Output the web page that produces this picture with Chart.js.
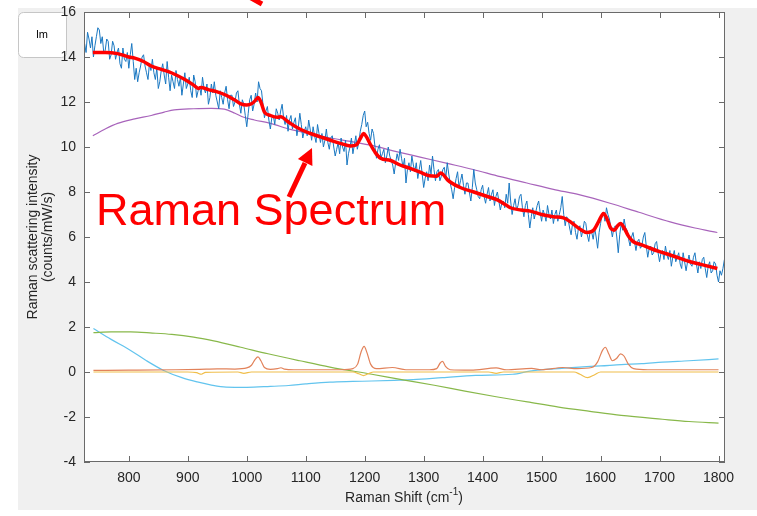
<!DOCTYPE html>
<html>
<head>
<meta charset="utf-8">
<style>
  html, body { margin: 0; padding: 0; background: #fff; }
  #raman { display: block; }
</style>
<script src="https://cdn.jsdelivr.net/npm/chart.js@4.4.1/dist/chart.umd.min.js"></script>
</head>
<body>
<canvas id="raman" width="757" height="516"></canvas>
<script>
// measured spectrum, sampled every 2.5 cm-1 from 725 cm-1
const shiftStart = 725;
const shiftStep = 2.5;
const spectrum = [
  14.6, 14.2, 15.1, 14.8, 14.4, 14.9, 14.0, 14.5, 14.9, 15.3, 15.2, 14.6, 14.9, 14.2, 14.3, 14.8, 14.7, 13.9, 14.1, 14.7,
  14.5, 13.9, 14.2, 14.4, 13.7, 13.5, 14.4, 13.9, 13.8, 14.2, 13.5, 14.1, 14.6, 13.8, 13.0, 13.5, 12.9, 13.3, 13.6, 14.0,
  14.1, 13.6, 13.3, 13.0, 13.7, 13.4, 13.9, 13.3, 13.0, 13.5, 12.6, 12.9, 13.4, 13.7, 13.2, 12.8, 13.8, 13.1, 12.5, 13.2,
  12.9, 12.6, 13.4, 13.0, 12.7, 13.1, 12.3, 12.8, 13.3, 12.6, 12.8, 13.1, 12.5, 12.2, 13.2, 12.9, 12.2, 12.5, 12.7, 12.3,
  13.1, 12.6, 12.4, 12.8, 11.9, 12.2, 12.8, 12.4, 12.9, 12.3, 12.0, 11.7, 12.5, 12.2, 11.9, 12.4, 12.7, 12.1, 11.7, 12.3,
  12.3, 11.8, 12.0, 12.4, 12.5, 11.9, 11.5, 12.1, 11.9, 11.4, 10.9, 11.5, 12.1, 12.3, 11.6, 11.9, 12.4, 12.0, 12.9, 12.6,
  12.5, 11.9, 11.3, 11.6, 11.8, 11.2, 10.8, 11.3, 11.4, 11.0, 11.7, 11.5, 11.2, 11.6, 11.9, 11.3, 11.0, 11.4, 10.7, 11.2,
  11.4, 10.8, 11.1, 11.3, 10.5, 10.9, 11.5, 11.0, 10.4, 10.7, 10.9, 10.5, 11.2, 10.8, 10.3, 10.9, 10.5, 10.2, 11.0, 10.6,
  10.2, 10.6, 10.0, 10.3, 10.8, 10.2, 9.9, 10.4, 10.5, 10.0, 9.6, 9.9, 10.2, 9.7, 10.4, 10.0, 9.8, 10.3, 9.2, 9.7,
  10.0, 10.4, 9.7, 10.1, 10.5, 9.9, 10.2, 10.7, 11.0, 11.4, 11.6, 10.9, 11.1, 10.6, 10.3, 10.8, 10.6, 10.0, 9.5, 9.9,
  10.1, 9.5, 9.7, 9.9, 9.3, 9.6, 10.0, 9.6, 9.4, 9.2, 8.8, 9.3, 9.7, 9.4, 9.9, 9.5, 9.1, 9.5, 8.4, 9.0,
  9.3, 8.9, 9.6, 9.2, 8.9, 9.3, 8.6, 9.0, 9.4, 8.8, 8.2, 8.6, 8.9, 8.5, 9.2, 8.8, 9.6, 9.0, 8.5, 8.9,
  9.0, 8.5, 8.7, 9.0, 9.1, 8.6, 9.3, 8.8, 8.4, 8.1, 7.7, 8.2, 8.6, 8.9, 8.2, 8.5, 8.8, 8.3, 7.9, 8.4,
  8.4, 8.0, 7.6, 8.2, 9.0, 8.4, 8.1, 7.8, 7.7, 8.1, 8.3, 7.8, 7.5, 7.9, 8.2, 7.6, 7.9, 8.1, 7.4, 7.8,
  8.0, 7.6, 7.2, 7.5, 7.6, 7.3, 7.9, 7.5, 8.4, 7.6, 7.0, 7.4, 7.7, 7.2, 7.4, 7.8, 7.9, 7.3, 6.9, 7.4,
  7.6, 7.0, 6.4, 6.9, 7.3, 6.8, 7.1, 7.4, 7.6, 7.1, 6.7, 7.2, 7.0, 6.7, 7.4, 7.0, 6.8, 7.2, 6.6, 7.0,
  7.2, 6.7, 7.0, 7.3, 7.8, 7.0, 6.5, 6.9, 6.8, 6.4, 6.1, 6.6, 6.7, 6.2, 5.9, 6.4, 6.5, 6.0, 6.3, 6.7,
  6.6, 6.1, 5.8, 6.3, 6.2, 5.9, 6.4, 6.0, 5.5, 6.2, 6.6, 7.0, 7.1, 6.7, 7.3, 7.0, 6.8, 6.4, 6.0, 6.4,
  6.5, 6.0, 5.3, 6.1, 6.6, 6.3, 6.8, 6.4, 6.3, 5.9, 5.6, 6.0, 6.2, 5.8, 5.4, 5.8, 5.9, 5.5, 5.6, 6.0,
  6.2, 5.6, 5.1, 5.5, 5.6, 5.2, 5.3, 5.7, 5.8, 5.3, 4.9, 5.3, 5.4, 5.0, 5.6, 5.2, 5.0, 5.4, 4.7, 5.1,
  5.4, 4.9, 5.1, 5.3, 4.8, 4.6, 5.3, 4.9, 4.5, 4.9, 5.2, 4.8, 4.7, 5.1, 5.3, 4.8, 4.4, 4.9, 4.6, 5.0,
  5.1, 4.6, 4.2, 4.7, 4.9, 4.4, 4.5, 4.9, 4.8, 4.3, 4.0, 4.5, 4.3, 4.6, 5.0
];

// fitted curve and its components, [shift, value]
const fitCurve = [
  [739, 14.2], [760, 14.2], [781, 14.15], [800, 14.0], [810, 13.95], [825, 13.8],
  [838, 13.6], [855, 13.45], [872, 13.3], [895, 13.0], [910, 12.75], [918, 12.6],
  [922, 12.65], [935, 12.55], [950, 12.45], [965, 12.3], [979, 12.1], [990, 11.92],
  [1000, 11.87], [1008, 11.92], [1014, 12.05], [1019, 12.2], [1024, 12.0], [1030, 11.55],
  [1040, 11.4], [1052, 11.32], [1058, 11.35], [1064, 11.25], [1074, 11.05], [1090, 10.8],
  [1108, 10.6], [1125, 10.45], [1142, 10.3], [1160, 10.15], [1176, 10.05], [1186, 10.1],
  [1193, 10.4], [1198, 10.6], [1203, 10.45], [1210, 10.1], [1218, 9.75], [1227, 9.5],
  [1244, 9.4], [1260, 9.2], [1277, 9.05], [1294, 8.88], [1310, 8.72], [1322, 8.7],
  [1329, 8.85], [1334, 8.75], [1340, 8.55], [1362, 8.2], [1385, 8.0], [1408, 7.8],
  [1425, 7.65], [1438, 7.45], [1447, 7.3], [1465, 7.2], [1481, 7.15], [1500, 7.0],
  [1520, 6.9], [1537, 6.85], [1550, 6.65], [1565, 6.35], [1577, 6.2], [1588, 6.3],
  [1597, 6.7], [1605, 7.05], [1611, 6.8], [1617, 6.4], [1623, 6.3], [1629, 6.5],
  [1634, 6.6], [1640, 6.4], [1647, 6.05], [1655, 5.8], [1670, 5.65], [1684, 5.5],
  [1700, 5.35], [1718, 5.2], [1735, 5.05], [1752, 4.9], [1775, 4.75], [1798, 4.6]
];

const background = [
  [739, 10.5], [760, 10.8], [781, 11.05], [810, 11.25], [838, 11.4], [860, 11.55],
  [877, 11.65], [910, 11.7], [940, 11.72], [962, 11.68], [980, 11.5], [995, 11.32],
  [1013, 11.2], [1040, 11.05], [1074, 10.78], [1108, 10.58], [1142, 10.4], [1176, 10.25],
  [1210, 10.08], [1250, 9.82], [1294, 9.55], [1340, 9.27], [1384, 9.0], [1430, 8.68],
  [1475, 8.4], [1520, 8.12], [1565, 7.87], [1616, 7.5], [1665, 7.1], [1718, 6.67],
  [1760, 6.4], [1798, 6.2]
];

const peaksPos = [
  [740, 0.07], [800, 0.08], [880, 0.1], [920, 0.12], [950, 0.14], [980, 0.13],
  [1000, 0.18], [1008, 0.3], [1014, 0.55], [1019, 0.67], [1024, 0.5], [1030, 0.2],
  [1040, 0.12], [1052, 0.15], [1058, 0.19], [1064, 0.13], [1080, 0.1], [1120, 0.1],
  [1160, 0.1], [1180, 0.15], [1188, 0.35], [1194, 0.9], [1199, 1.14], [1204, 0.85],
  [1210, 0.35], [1220, 0.15], [1247, 0.2], [1270, 0.1], [1310, 0.1], [1322, 0.15],
  [1328, 0.4], [1332, 0.47], [1337, 0.25], [1345, 0.1], [1380, 0.08], [1423, 0.18],
  [1440, 0.1], [1483, 0.16], [1500, 0.1], [1536, 0.2], [1560, 0.15], [1585, 0.2],
  [1595, 0.45], [1603, 0.95], [1608, 1.1], [1614, 0.8], [1620, 0.5], [1627, 0.6],
  [1634, 0.81], [1640, 0.7], [1647, 0.35], [1656, 0.15], [1680, 0.1], [1750, 0.1],
  [1800, 0.1]
];

const peaksNeg = [
  [740, 0], [900, 0], [915, -0.03], [923, -0.1], [930, -0.02], [985, 0],
  [995, -0.06], [1008, 0], [1180, 0], [1190, -0.08], [1198, -0.16], [1206, -0.08],
  [1215, 0], [1410, 0], [1423, -0.06], [1435, 0], [1555, 0], [1565, -0.1],
  [1578, -0.25], [1590, -0.12], [1600, 0], [1800, 0]
];

const slowTerm = [
  [740, 1.75], [770, 1.78], [803, 1.78], [840, 1.73], [873, 1.67], [910, 1.55],
  [944, 1.38], [990, 1.1], [1036, 0.81], [1090, 0.5], [1141, 0.22], [1212, -0.1],
  [1265, -0.35], [1318, -0.59], [1370, -0.85], [1423, -1.1], [1476, -1.33], [1529, -1.56],
  [1582, -1.75], [1635, -1.93], [1705, -2.1], [1750, -2.2], [1800, -2.27]
];

const offsetTerm = [
  [740, 1.93], [770, 1.45], [803, 0.96], [830, 0.5], [859, 0.07], [890, -0.25],
  [916, -0.44], [940, -0.58], [965, -0.67], [1000, -0.68], [1040, -0.64], [1071, -0.6],
  [1100, -0.53], [1141, -0.45], [1180, -0.42], [1212, -0.4], [1250, -0.37], [1282, -0.34],
  [1332, -0.25], [1388, -0.15], [1451, -0.1], [1480, 0.04], [1520, 0.14], [1564, 0.22],
  [1600, 0.27], [1635, 0.33], [1670, 0.37], [1705, 0.44], [1750, 0.5], [1800, 0.58]
];

const xTicks = [800, 900, 1000, 1100, 1200, 1300, 1400, 1500, 1600, 1700, 1800];
const yTicks = [-4, -2, 0, 2, 4, 6, 8, 10, 12, 14, 16];

const FONT = "'Liberation Sans', Arial, Helvetica, sans-serif";
const TXT = "#262626";

const toPts = arr => arr.map(p => ({ x: p[0], y: p[1] }));
const spectrumPts = spectrum.map((v, i) => ({ x: shiftStart + i * shiftStep, y: v }));

function line(data, color, width, smooth) {
  return {
    data: data,
    borderColor: color,
    borderWidth: width,
    pointRadius: 0,
    fill: false,
    tension: 0,
    cubicInterpolationMode: smooth ? "monotone" : "default"
  };
}

// frame, inside ticks, titles and annotations drawn around the chart
const figure = {
  id: "figure",
  beforeDraw(chart) {
    const { ctx, chartArea: a } = chart;
    ctx.save();
    ctx.fillStyle = "#ffffff";
    ctx.fillRect(0, 0, chart.width, chart.height);
    ctx.fillStyle = "#f0f0f0";
    ctx.fillRect(18, 8, chart.width - 18, 502);
    ctx.fillStyle = "#ffffff";
    ctx.fillRect(a.left, a.top, a.right - a.left, a.bottom - a.top);

    // little "lm" panel, tick labels go over it
    ctx.strokeStyle = "#c6c6c6";
    ctx.lineWidth = 1;
    ctx.beginPath();
    ctx.roundRect(18.5, 12.5, 48, 45, 5);
    ctx.fill();
    ctx.stroke();
    ctx.fillStyle = "#000";
    ctx.font = "11px " + FONT;
    ctx.textAlign = "center";
    ctx.textBaseline = "middle";
    ctx.fillText("lm", 42, 35);
    ctx.restore();
  },
  afterDraw(chart) {
    const { ctx, chartArea: a } = chart;
    const xs = chart.scales.x, ys = chart.scales.y;
    ctx.save();

    // box
    ctx.strokeStyle = "#6a6a6a";
    ctx.lineWidth = 1;
    ctx.strokeRect(a.left + 0.5, a.top + 0.5, a.right - a.left - 1, a.bottom - a.top - 1);

    // ticks pointing inward on all four sides
    ctx.beginPath();
    xTicks.forEach(v => {
      const px = Math.round(xs.getPixelForValue(v)) + 0.5;
      ctx.moveTo(px, a.bottom); ctx.lineTo(px, a.bottom - 6);
      ctx.moveTo(px, a.top); ctx.lineTo(px, a.top + 6);
    });
    yTicks.forEach(v => {
      const py = Math.round(ys.getPixelForValue(v)) + 0.5;
      ctx.moveTo(a.left, py); ctx.lineTo(a.left + 6, py);
      ctx.moveTo(a.right, py); ctx.lineTo(a.right - 6, py);
    });
    ctx.stroke();

    // axis titles
    ctx.fillStyle = TXT;
    ctx.font = "14px " + FONT;
    ctx.textBaseline = "middle";
    const p1 = "Raman Shift (cm", p3 = ")";
    const w1 = ctx.measureText(p1).width, w3 = ctx.measureText(p3).width;
    ctx.font = "10px " + FONT;
    const w2 = ctx.measureText("-1").width;
    let tx = 404 - (w1 + w2 + w3) / 2;
    ctx.font = "14px " + FONT;
    ctx.textAlign = "left";
    ctx.fillText(p1, tx, 498);
    ctx.font = "10px " + FONT;
    ctx.fillText("-1", tx + w1, 492);
    ctx.font = "14px " + FONT;
    ctx.fillText(p3, tx + w1 + w2, 498);

    ctx.save();
    ctx.translate(33, 237);
    ctx.rotate(-Math.PI / 2);
    ctx.textAlign = "center";
    ctx.fillText("Raman scattering intensity", 0, 0);
    ctx.fillText("(counts/mW/s)", 0, 15);
    ctx.restore();

    // annotation
    ctx.fillStyle = "#ff0000";
    ctx.strokeStyle = "#ff0000";
    ctx.font = "45px " + FONT;
    ctx.textAlign = "left";
    ctx.textBaseline = "alphabetic";
    ctx.fillText("Raman Spectrum", 96, 225);

    ctx.lineWidth = 5;
    ctx.lineCap = "butt";
    ctx.beginPath();
    ctx.moveTo(289, 197);
    ctx.lineTo(305, 163);
    ctx.stroke();
    ctx.beginPath();
    ctx.moveTo(312, 148);
    ctx.lineTo(312.4, 166);
    ctx.lineTo(297.9, 159);
    ctx.closePath();
    ctx.fill();

    ctx.beginPath();
    ctx.moveTo(244, -6);
    ctx.lineTo(262, 4);
    ctx.stroke();

    ctx.restore();
  }
};

new Chart(document.getElementById("raman"), {
  type: "line",
  data: {
    datasets: [
      line(toPts(fitCurve), "#ff0000", 3.5, true),
      line(spectrumPts, "#1a78c2", 1, false),
      line(toPts(background), "#a864bb", 1.2, true),
      line(toPts(peaksPos), "#e2825a", 1.2, true),
      line(toPts(peaksNeg), "#f0be4a", 1.2, true),
      line(toPts(slowTerm), "#88b84a", 1.2, true),
      line(toPts(offsetTerm), "#62c4ee", 1.2, true)
    ]
  },
  options: {
    responsive: false,
    animation: false,
    events: [],
    layout: { padding: { left: 0, top: 12, right: 32, bottom: 0 } },
    plugins: { legend: { display: false }, tooltip: { enabled: false } },
    scales: {
      x: {
        type: "linear",
        min: 724,
        max: 1811,
        grid: { display: false },
        border: { display: false },
        afterBuildTicks: s => { s.ticks = xTicks.map(v => ({ value: v })); },
        afterFit: s => { s.height = 54; },
        ticks: {
          autoSkip: false,
          maxRotation: 0,
          padding: 0,
          color: TXT,
          font: { family: FONT, size: 14 },
          callback: v => String(v)
        }
      },
      y: {
        min: -4,
        max: 16,
        grid: { display: false },
        border: { display: false },
        afterBuildTicks: s => { s.ticks = yTicks.map(v => ({ value: v })); },
        afterFit: s => { s.width = 84; },
        ticks: {
          padding: 0,
          color: TXT,
          font: { family: FONT, size: 14 },
          callback: v => String(v)
        }
      }
    }
  },
  plugins: [figure]
});
</script>
</body>
</html>
